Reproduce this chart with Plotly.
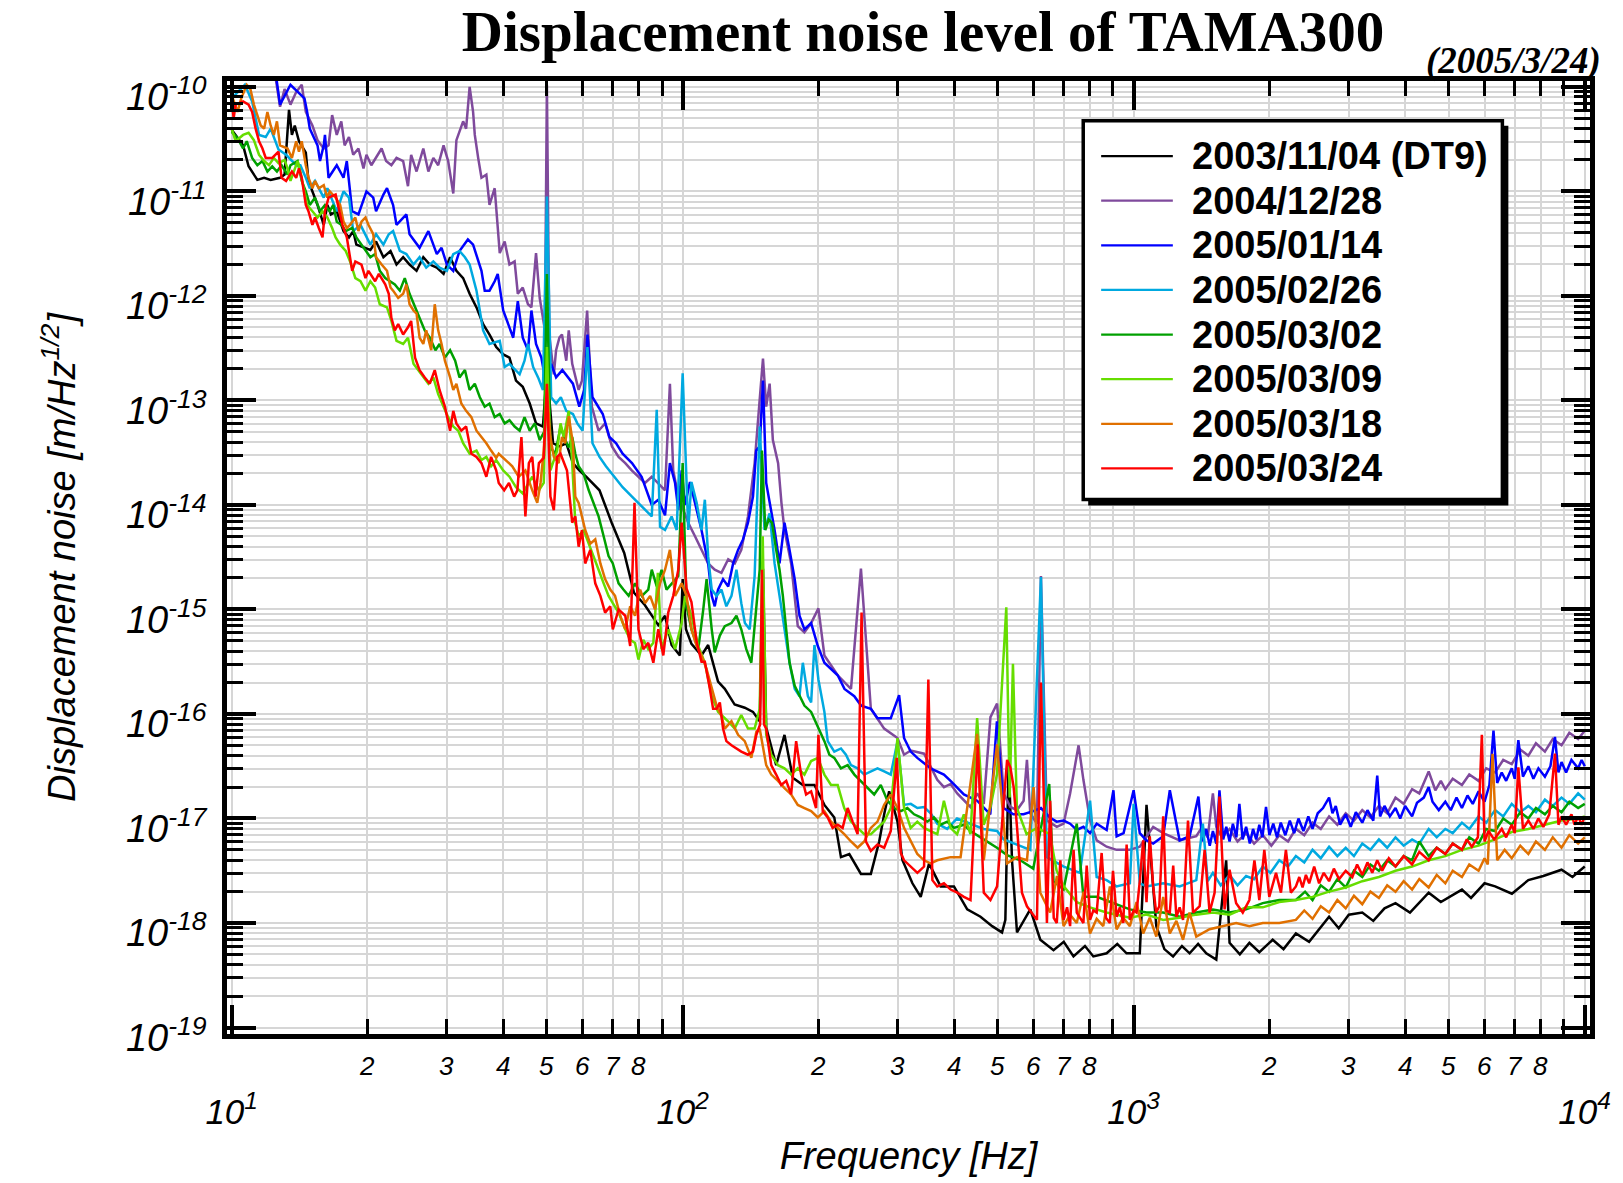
import math
import plotly.graph_objects as go

# ---------------- data (frequency [Hz], log10 of displacement noise [m/rtHz]) -------------
SERIES_NAMES = ["2003/11/04 (DT9)", "2004/12/28", "2005/01/14", "2005/02/26",
                "2005/03/02", "2005/03/09", "2005/03/18", "2005/03/24"]

BLACK = [(10,-10.41),(10.6,-10.56),(10.9,-10.76),(11.4,-10.89),(11.8,-10.87),(12.2,-10.89),(12.8,-10.87),
(13.1,-10.84),(13.4,-10.22),(13.6,-10.46),(13.8,-10.37),(14.1,-10.52),(14.6,-10.63),(14.8,-10.90),(15.5,-11.13),
(16.0,-11.32),(16.3,-11.13),(16.6,-11.22),(17.1,-11.19),(17.7,-11.38),(18.2,-11.44),(18.6,-11.38),(18.9,-11.51),
(20.3,-11.56),(20.9,-11.48),(21.7,-11.63),(22.5,-11.57),(23.2,-11.70),(24.0,-11.63),(24.8,-11.70),(25.7,-11.76),
(26.6,-11.63),(27.5,-11.70),(28.5,-11.73),(29.5,-11.79),(30.5,-11.63),(31.5,-11.76),(32.6,-11.83),(33.7,-11.98),
(34.9,-12.11),(36.1,-12.27),(37.3,-12.37),(38.6,-12.49),(40.0,-12.56),(41.3,-12.59),(42.7,-12.81),(44.2,-12.87),
(45.8,-13.03),(47.3,-13.22),(49.0,-13.25),(50.0,-12.71),(51.6,-13.41),(53.3,-13.44),(55.2,-13.41),(57.1,-13.60),
(59.0,-13.67),(61.1,-13.73),(63.2,-13.79),(65.4,-13.86),(69.6,-14.17),(74.2,-14.46),(78.0,-14.84),(82.5,-14.96),
(88.3,-15.15),(91.4,-15.06),(94.5,-15.34),(98.6,-15.44),(100,-14.71),(101.7,-15.19),(104.6,-15.33),(110.1,-15.44),
(113.9,-15.34),(119.8,-15.69),(124,-15.76),(130.4,-15.91),(137.3,-15.94),(143.2,-15.98),(148.2,-16.07),(150.7,-14.61),
(153.2,-16.13),(161.2,-16.49),(168.2,-16.20),(175.5,-16.61),(184.7,-16.68),(196,-16.68),(206.2,-16.87),(216.9,-16.99),
(224.4,-17.37),(234.2,-17.34),(248.5,-17.53),(261.4,-17.53),(272.8,-17.22),(279.8,-16.96),(287,-16.74),(299.5,-17.03),
(307.2,-17.40),(323.2,-17.62),(337.2,-17.75),(351.8,-17.43),(373.3,-17.65),(399.6,-17.65),(427.6,-17.87),(457.6,-17.94),
(485.6,-18.03),(510.8,-18.09),(519.5,-17.97),(528.4,-16.44),(537.4,-17.40),(551.3,-18.09),(590,-17.87),(620.9,-18.16),
(664.3,-18.26),(700,-18.18),(735.6,-18.32),(780,-18.22),(814.2,-18.32),(871.3,-18.29),(920,-18.20),(964.5,-18.29),
(1032,-18.29),(1068,-16.87),(1123,-18.03),(1170,-18.25),(1223,-18.32),(1280,-18.22),(1331,-18.29),(1390,-18.20),
(1449,-18.29),(1525,-18.35),(1604,-17.40),(1632,-18.19),(1720,-18.30),(1806,-18.19),(1900,-18.28),(2034,-18.16),
(2150,-18.25),(2290,-18.10),(2450,-18.18),(2713,-17.94),(2850,-18.05),(3000,-17.92),(3214,-17.90),(3400,-17.98),
(3600,-17.86),(3808,-17.81),(4100,-17.90),(4511,-17.71),(4800,-17.80),(5346,-17.68),(5600,-17.76),(6000,-17.62),
(6333,-17.65),(6900,-17.72),(7504,-17.59),(8100,-17.55),(8890,-17.49),(9400,-17.56),(10009,-17.46)]

PURPLE = [(10,-9.6),(11.5,-9.75),(12.5,-9.9),(12.8,-10.19),(13.1,-10.02),(13.5,-10.17),(13.9,-10.05),(14.3,-9.98),
(14.6,-10.24),(15.1,-10.37),(15.5,-10.51),(16.0,-10.59),(16.4,-10.56),(16.7,-10.27),(17.1,-10.46),(17.5,-10.33),
(17.8,-10.56),(18.2,-10.48),(18.6,-10.65),(19.1,-10.59),(19.6,-10.78),(19.9,-10.65),(20.4,-10.75),(20.9,-10.68),
(21.5,-10.59),(22.0,-10.71),(22.6,-10.75),(23.2,-10.68),(24.0,-10.71),(24.6,-10.95),(25.0,-10.65),(25.7,-10.81),
(26.6,-10.59),(27.3,-10.81),(28.0,-10.68),(28.7,-10.75),(29.5,-10.56),(30.2,-10.71),(31.0,-11.02),(31.5,-10.51),
(32.0,-10.43),(32.6,-10.33),(33.1,-10.40),(33.7,-10.0),(34.3,-10.24),(34.6,-10.46),(35.2,-10.68),(35.8,-10.87),
(36.7,-10.84),(37.3,-11.13),(38.3,-10.97),(38.9,-11.38),(39.3,-11.59),(40.3,-11.48),(41.3,-11.70),(42.4,-11.67),
(43.1,-11.98),(44.2,-11.92),(45.4,-12.08),(46.2,-12.11),(47.3,-11.59),(48.2,-12.02),(49.5,-12.33),(50,-9.98),
(50.6,-12.37),(51.8,-12.75),(52.4,-12.52),(53.3,-12.40),(54.0,-12.37),(55.2,-12.62),(55.9,-12.33),(56.9,-12.65),
(58.8,-12.90),(59.8,-12.81),(61.4,-12.14),(62.9,-13.06),(65.1,-13.29),(67.3,-13.22),(69.7,-13.44),(72.1,-13.54),
(74.6,-13.60),(77.1,-13.67),(79.8,-13.73),(82.5,-13.79),(85.4,-13.73),(88.3,-13.79),(91.4,-13.86),(93.7,-12.84),
(95.3,-13.67),(97.8,-13.92),(102.9,-14.17),(106.5,-14.30),(110.1,-14.43),(113.9,-14.56),(117.8,-14.62),(121.9,-14.65),
(126.2,-14.52),(130.5,-14.56),(134.9,-14.43),(139.6,-14.11),(144.4,-13.60),(148.2,-12.97),(150.7,-12.60),(153.2,-13.06),
(155.9,-12.84),(158.5,-13.38),(162.8,-13.60),(165.6,-13.98),(168.2,-14.24),(174,-14.56),(180,-15.16),(186.2,-15.22),
(192.7,-15.13),(200,-14.99),(206.2,-15.44),(220.7,-15.63),(236.2,-15.76),(248.5,-14.61),(261.4,-15.95),(279.8,-16.14),
(299.5,-16.23),(309.7,-16.39),(320.5,-16.35),(343,-16.38),(354.8,-16.51),(367,-16.63),(379.7,-16.70),(392.8,-16.67),
(406.3,-16.76),(420.4,-16.83),(434.8,-16.89),(449.8,-16.76),(465.3,-16.86),(481.4,-16.03),(498,-15.90),(515,-16.76),
(532.9,-16.89),(551.3,-16.92),(570.3,-16.83),(580,-16.44),(590,-16.95),(610.5,-17.05),(623,-14.68),(642.3,-17.02),
(675.5,-17.08),(699.3,-17.05),(723,-16.76),(755,-16.30),(773.8,-16.63),(800.6,-17.02),(828.2,-17.21),(871.3,-17.27),
(916.9,-17.30),(981,-17.30),(1032,-17.27),(1105,-17.08),(1163,-17.14),(1265,-17.21),(1377,-17.17),(1420,-17.08),
(1460,-17.18),(1499,-16.76),(1525,-17.08),(1570,-17.18),(1632,-17.10),(1700,-17.22),(1776,-17.14),(1850,-17.24),
(1934,-17.16),(2020,-17.26),(2104,-17.16),(2200,-17.22),(2290,-17.10),(2390,-17.16),(2493,-17.04),(2600,-17.10),
(2713,-16.98),(2830,-17.06),(2953,-16.95),(3080,-17.02),(3214,-16.92),(3350,-16.99),(3499,-16.88),(3650,-16.95),
(3808,-16.80),(3970,-16.86),(4145,-16.72),(4300,-16.76),(4511,-16.55),(4667,-16.73),(4800,-16.64),(4911,-16.72),
(5100,-16.62),(5346,-16.68),(5550,-16.58),(5820,-16.64),(6050,-16.52),(6333,-16.56),(6600,-16.44),(6894,-16.48),
(7200,-16.34),(7504,-16.40),(7800,-16.28),(8166,-16.36),(8500,-16.24),(8890,-16.30),(9250,-16.18),(9676,-16.24),
(10009,-16.16)]

BLUE = [(10,-9.6),(11.5,-9.7),(12.5,-9.85),(12.8,-10.17),(13.5,-9.98),(14.5,-10.11),(14.7,-10.24),(14.9,-10.40),
(15.5,-10.56),(15.7,-10.71),(16.0,-10.56),(16.1,-10.46),(16.4,-10.87),(17.1,-10.75),(17.7,-10.87),(18.0,-10.71),
(18.5,-11.19),(19.1,-11.22),(19.9,-11.0),(20.6,-11.06),(20.9,-11.19),(21.7,-11.03),(22.1,-10.97),(22.8,-11.13),
(23.2,-11.32),(24.4,-11.22),(24.8,-11.41),(26.1,-11.54),(27.3,-11.38),(28.5,-11.60),(29.2,-11.54),(30.0,-11.70),
(31.0,-11.76),(32.0,-11.57),(33.4,-11.46),(34.3,-11.51),(35.8,-11.76),(36.4,-11.95),(37.3,-11.95),(38.3,-11.86),
(38.9,-11.79),(40.0,-12.14),(42.1,-12.40),(43.1,-12.05),(44.2,-12.40),(45.4,-12.52),(46.2,-12.14),(47.3,-12.46),
(48.6,-12.59),(49.5,-12.78),(51.1,-12.65),(52.4,-12.78),(54.1,-12.71),(57.1,-12.84),(59.0,-13.06),(60.5,-12.90),
(61.5,-12.37),(63.1,-12.97),(66.5,-13.13),(68.8,-13.35),(71.2,-13.41),(73.6,-13.51),(77.2,-13.60),(81.1,-13.73),
(85.4,-14.0),(88.3,-13.95),(91.4,-14.1),(93.7,-13.60),(96.2,-13.79),(97.8,-14.05),(99.5,-13.67),(101.2,-14.0),
(103.8,-13.78),(106.5,-13.98),(110.1,-14.24),(113.9,-14.56),(116,-14.87),(117.8,-14.97),(119.8,-14.81),(122.9,-14.71),
(126.2,-14.78),(129.4,-14.56),(132.7,-14.43),(136.1,-14.33),(139.6,-14.17),(143.2,-13.92),(145.6,-13.48),(148.2,-13.44),
(150.7,-12.81),(153.2,-13.79),(155.9,-13.98),(159.9,-14.24),(164,-14.56),(168.2,-14.17),(172.6,-14.43),(177.2,-14.71),
(181.6,-15.06),(186.2,-15.19),(192.7,-15.13),(199.4,-15.35),(206.2,-15.51),(213.3,-15.57),(220.7,-15.63),(228.5,-15.76),
(240.2,-15.83),(248.7,-15.92),(261.5,-15.95),(270.4,-16.04),(289.4,-16.04),(302,-15.82),(309.7,-16.23),(320.4,-16.36),
(331.4,-16.42),(354.6,-16.52),(379.6,-16.58),(392.7,-16.64),(420.3,-16.77),(449.8,-16.83),(481,-16.96),(497.6,-16.07),
(515,-16.90),(541,-16.96),(570,-16.96),(599,-16.93),(623,-16.90),(652,-16.99),(675,-17.03),(699.3,-17.02),(723,-17.05),
(748,-17.11),(773.8,-17.08),(800.6,-17.14),(828.2,-17.05),(871.3,-17.11),(902,-16.73),(916.9,-17.17),(950,-17.14),
(1000,-16.73),(1032,-17.14),(1068,-17.21),(1105,-17.24),(1163,-17.17),(1203,-16.73),(1265,-17.21),(1331,-17.17),
(1392,-16.79),(1420,-17.22),(1449,-17.10),(1475,-17.26),(1499,-17.12),(1525,-17.24),(1550,-16.73),(1580,-17.20),
(1605,-17.08),(1632,-17.22),(1660,-17.05),(1690,-17.18),(1716,-16.86),(1745,-17.20),(1776,-17.08),(1810,-17.24),
(1840,-17.10),(1870,-17.20),(1900,-17.06),(1930,-17.18),(1966,-16.89),(2000,-17.16),(2040,-17.05),(2080,-17.18),
(2120,-17.04),(2170,-17.16),(2220,-17.02),(2270,-17.14),(2320,-17.00),(2380,-17.12),(2440,-16.98),(2493,-17.10),
(2560,-16.95),(2630,-16.90),(2713,-16.80),(2760,-16.95),(2807,-16.88),(2870,-17.06),(2953,-16.96),(3030,-17.08),
(3110,-16.94),(3214,-17.04),(3300,-16.92),(3400,-17.02),(3469,-16.59),(3520,-16.98),(3600,-16.88),(3700,-16.98),
(3808,-16.90),(3900,-17.00),(4000,-16.88),(4145,-16.98),(4250,-16.85),(4400,-16.80),(4511,-16.70),(4600,-16.84),
(4750,-16.92),(4911,-16.84),(5050,-16.92),(5200,-16.80),(5346,-16.90),(5500,-16.78),(5650,-16.86),(5820,-16.74),
(6000,-16.84),(6150,-16.68),(6280,-16.16),(6400,-16.66),(6550,-16.56),(6700,-16.64),(6894,-16.52),(7000,-16.62),
(7130,-16.25),(7300,-16.60),(7504,-16.50),(7700,-16.62),(7900,-16.52),(8166,-16.60),(8400,-16.50),(8596,-16.22),
(8750,-16.56),(8890,-16.46),(9100,-16.56),(9350,-16.44),(9676,-16.52),(9850,-16.44),(10009,-16.50)]

CYAN = [(10,-10.11),(10.3,-10.05),(10.7,-9.98),(11.1,-10.14),(11.5,-10.46),(11.9,-10.48),(12.2,-10.40),(12.7,-10.60),
(13.2,-10.65),(13.9,-10.75),(14.2,-10.75),(14.6,-10.87),(14.9,-10.97),(15.3,-10.90),(16.0,-11.06),(16.3,-10.97),
(17.1,-11.19),(17.7,-11.0),(18.2,-11.06),(18.6,-11.38),(19.3,-11.32),(20.3,-11.51),(20.9,-11.41),(21.7,-11.51),
(22.3,-11.41),(22.8,-11.38),(23.6,-11.57),(24.4,-11.60),(25.3,-11.70),(26.1,-11.63),(27.0,-11.73),(28.0,-11.67),
(28.9,-11.73),(30.0,-11.76),(31.0,-11.60),(32.0,-11.57),(32.9,-11.63),(33.7,-11.70),(34.9,-11.95),(36.1,-12.33),
(37.3,-12.46),(39.3,-12.43),(40.3,-12.68),(41.3,-12.65),(43.5,-12.75),(44.6,-12.62),(45.4,-12.46),(46.6,-12.68),
(47.8,-12.78),(49.0,-12.90),(50,-11.05),(51.1,-12.97),(52.4,-13.03),(53.7,-12.97),(55.2,-13.10),(57.1,-13.13),
(58.4,-13.22),(60,-13.29),(61.5,-12.49),(63.1,-13.41),(65.4,-13.54),(67.6,-13.63),(70.6,-13.73),(73.6,-13.83),
(77.2,-13.92),(82.5,-14.05),(85.4,-14.11),(87.6,-13.09),(89.1,-14.21),(91.4,-14.24),(94.5,-14.11),(97,-14.24),
(100,-12.74),(102.9,-14.24),(104.6,-13.78),(107.4,-13.98),(110.1,-14.24),(112,-13.95),(113.9,-14.49),(116,-14.81),
(118.9,-14.87),(121.9,-14.81),(125,-14.97),(128.3,-14.87),(131.6,-14.62),(134.9,-14.94),(137.4,-15.13),(140.8,-15.19),
(144.4,-14.68),(148.2,-13.25),(151.9,-14.24),(155.9,-14.08),(159.9,-14.56),(164,-14.87),(168.2,-15.19),(172.6,-15.51),
(177.2,-15.76),(181.6,-15.83),(184.7,-15.51),(189.5,-15.83),(192.7,-15.89),(196,-15.34),(200,-15.67),(206.2,-15.98),
(209.7,-16.26),(216.9,-16.36),(224.4,-16.33),(230.2,-16.39),(236.2,-16.49),(244.3,-16.52),(252.7,-16.58),(261.4,-16.55),
(270.4,-16.52),(279.8,-16.55),(289.4,-16.58),(299.5,-16.26),(309.7,-16.87),(320.5,-16.86),(331.5,-16.90),(343,-16.89),
(354.8,-16.95),(367,-17.05),(386,-17.10),(406,-17.0),(434.7,-17.05),(465,-17.10),(498,-17.12),(515,-17.20),(551,-17.25),
(590,-17.30),(623,-14.69),(642,-17.37),(700,-17.46),(760,-17.52),(800.6,-16.83),(828,-17.56),(871,-17.59),(916,-17.65),
(981,-17.62),(1000,-16.86),(1032,-17.62),(1068,-17.65),(1163,-17.62),(1265,-17.65),(1377,-17.59),(1424,-17.05),
(1460,-17.60),(1499,-17.52),(1560,-17.64),(1632,-17.54),(1700,-17.64),(1776,-17.55),(1850,-17.58),(1933,-17.46),
(2010,-17.52),(2104,-17.40),(2200,-17.46),(2290,-17.36),(2390,-17.42),(2493,-17.30),(2600,-17.38),(2713,-17.27),
(2830,-17.36),(2953,-17.28),(3080,-17.36),(3214,-17.24),(3350,-17.30),(3499,-17.20),(3650,-17.28),(3808,-17.18),
(3970,-17.26),(4145,-17.20),(4300,-17.24),(4511,-17.10),(4700,-17.18),(4911,-17.10),(5100,-17.14),(5346,-17.04),
(5550,-17.10),(5820,-16.98),(6050,-17.04),(6333,-16.92),(6600,-16.98),(6894,-16.86),(7200,-16.94),(7504,-16.88),
(7800,-16.94),(8166,-16.82),(8500,-16.88),(8890,-16.80),(9250,-16.86),(9676,-16.76),(10009,-16.82)]

GREEN = [(10,-10.43),(10.3,-10.49),(10.6,-10.59),(10.8,-10.52),(11.1,-10.68),(11.4,-10.75),(11.7,-10.71),(12.0,-10.81),
(12.3,-10.76),(12.6,-10.81),(12.9,-10.75),(13.3,-10.84),(13.5,-10.75),(14.0,-10.71),(14.3,-10.90),(14.6,-11.0),
(14.9,-11.13),(15.3,-11.06),(15.7,-11.19),(16.1,-11.13),(16.5,-11.19),(16.8,-11.13),(17.1,-11.29),(17.5,-11.32),
(17.9,-11.38),(18.5,-11.35),(18.9,-11.44),(19.6,-11.54),(20.3,-11.63),(20.8,-11.60),(21.3,-11.76),(21.9,-11.83),
(22.5,-11.86),(23.0,-11.89),(23.6,-11.95),(24.2,-11.83),(24.8,-11.98),(25.5,-12.11),(26.1,-12.21),(26.8,-12.33),
(27.5,-12.40),(28.3,-12.52),(28.9,-12.46),(29.7,-12.59),(30.5,-12.52),(31.3,-12.62),(32.0,-12.78),(32.9,-12.71),
(33.7,-12.90),(34.6,-12.84),(35.5,-12.97),(36.4,-13.06),(37.3,-13.03),(38.3,-13.16),(39.3,-13.13),(40.3,-13.22),
(41.3,-13.19),(42.4,-13.25),(43.5,-13.29),(44.6,-13.16),(45.8,-13.29),(47.0,-13.22),(48.2,-13.38),(49.3,-13.30),
(50,-11.79),(50.9,-13.45),(52.2,-13.51),(53.6,-13.25),(54.9,-13.38),(55.9,-13.45),(56.9,-13.35),(57.8,-13.51),
(58.8,-13.63),(60.3,-13.70),(61.9,-13.86),(63.5,-13.98),(65.1,-14.11),(66.8,-14.30),(68.5,-14.49),(70,-14.56),
(72.1,-14.75),(73.9,-14.81),(75.9,-14.87),(78.4,-14.75),(81.2,-14.87),(83.9,-14.81),(85.4,-14.62),(87.6,-14.78),
(89.8,-14.62),(92.1,-14.81),(94.5,-14.75),(97.8,-14.68),(100,-13.60),(102,-14.97),(104.6,-15.19),(108.3,-15.38),
(111.1,-15.0),(113,-14.71),(116,-15.19),(117.8,-15.41),(120.9,-15.25),(124,-15.16),(128.3,-15.13),(131.6,-15.06),
(134.9,-15.19),(138.4,-15.38),(142,-15.51),(145.6,-15.0),(148.2,-14.62),(149.9,-13.48),(152.5,-14.24),(155.1,-14.14),
(157.8,-14.17),(161.2,-14.43),(164,-14.62),(166.8,-14.87),(169.7,-15.19),(172.6,-15.51),(177.2,-15.73),(181.6,-15.83),
(186.2,-15.92),(192.7,-15.98),(202.7,-16.20),(206.2,-16.26),(211.5,-16.39),(216.9,-16.42),(224.4,-16.52),(232.2,-16.49),
(240.3,-16.58),(248.5,-16.64),(257,-16.71),(265.9,-16.77),(275,-16.68),(284.6,-16.83),(294.4,-16.90),(304.6,-16.93),
(315,-16.90),(326,-16.96),(337.2,-16.99),(348.7,-17.03),(360.8,-16.99),(373.3,-17.06),(386,-17.03),(399.5,-17.09),
(420.3,-17.06),(434.7,-17.12),(465,-17.20),(497.6,-17.28),(523.9,-17.35),(560.8,-17.40),(599,-17.48),(649.9,-16.67),
(664.3,-17.60),(699.3,-17.68),(748,-17.05),(773.8,-17.75),(828.2,-17.75),(902,-17.81),(981,-17.87),(1068,-17.90),
(1163,-17.90),(1265,-17.94),(1377,-17.90),(1499,-17.87),(1632,-17.90),(1776,-17.87),(1934,-17.81),(2104,-17.78),
(2290,-17.78),(2400,-17.70),(2493,-17.78),(2600,-17.64),(2713,-17.70),(2830,-17.58),(2953,-17.66),(3080,-17.50),
(3214,-17.56),(3350,-17.44),(3499,-17.50),(3650,-17.40),(3808,-17.46),(3970,-17.36),(4145,-17.40),(4300,-17.22),
(4511,-17.36),(4700,-17.28),(4911,-17.34),(5100,-17.24),(5346,-17.30),(5550,-17.18),(5820,-17.24),(6050,-17.10),
(6333,-17.12),(6600,-17.00),(6894,-17.06),(7200,-16.94),(7504,-17.00),(7800,-16.90),(8166,-16.96),(8500,-16.88),
(8890,-16.94),(9250,-16.84),(9676,-16.90),(10009,-16.86)]

LIGHTGREEN = [(10,-10.40),(10.2,-10.52),(10.6,-10.46),(10.9,-10.44),(11.2,-10.51),(11.5,-10.65),(11.8,-10.71),
(12.1,-10.75),(12.4,-10.68),(12.7,-10.73),(13.1,-10.70),(13.3,-10.78),(13.5,-10.90),(14.0,-10.71),(14.2,-10.81),
(14.5,-11.0),(14.7,-11.13),(15.1,-11.19),(15.5,-11.25),(15.9,-11.19),(16.3,-11.25),(16.7,-11.35),(17.0,-11.44),
(17.4,-11.51),(17.9,-11.57),(18.3,-11.67),(18.8,-11.83),(19.3,-11.86),(19.8,-11.95),(20.3,-11.86),(20.8,-11.92),
(21.3,-12.08),(22.1,-12.11),(22.6,-12.24),(23.2,-12.43),(24.0,-12.46),(24.6,-12.40),(25.3,-12.65),(25.9,-12.71),
(26.6,-12.78),(27.3,-12.84),(28.0,-12.78),(28.7,-12.94),(29.5,-13.06),(30.2,-13.16),(31.0,-13.25),(31.8,-13.29),
(32.6,-13.41),(33.7,-13.51),(34.9,-13.48),(35.8,-13.57),(36.7,-13.54),(37.6,-13.63),(38.6,-13.57),(40.0,-13.67),
(41.3,-13.73),(42.7,-13.83),(44.2,-13.89),(45.6,-13.79),(46.4,-13.73),(48,-13.86),(49.2,-13.79),(50,-12.49),
(50.9,-13.67),(52.7,-13.48),(53.6,-13.22),(54.5,-13.35),(55.9,-13.10),(56.9,-13.60),(57.8,-14.17),(58.8,-14.30),
(60.3,-14.24),(61.9,-14.37),(63.5,-14.49),(65.1,-14.62),(66.8,-14.75),(68.5,-14.87),(70,-14.94),(72.1,-15.03),
(74.6,-15.19),(76.5,-15.29),(78.4,-15.32),(79.8,-15.48),(81.8,-15.29),(83.9,-15.38),(86.1,-15.32),(88.1,-14.65),
(89.8,-15.38),(92.9,-15.19),(96.2,-15.38),(99.5,-15.13),(101.2,-14.87),(104.6,-15.06),(108.3,-15.35),(112,-15.51),
(116,-15.83),(119.8,-15.98),(121.9,-16.01),(126.1,-16.07),(130.4,-16.14),(134.9,-16.01),(139.6,-16.14),(144.4,-16.14),
(148.2,-15.95),(150.5,-14.30),(153.2,-16.20),(157.2,-16.39),(162.7,-16.49),(168.2,-16.52),(174,-16.58),(180,-16.52),
(186.2,-16.58),(192.7,-16.45),(199.4,-16.42),(206.2,-16.58),(213.3,-16.68),(220.7,-16.68),(228.2,-16.90),(236.2,-17.03),
(244.3,-17.09),(252.7,-17.15),(261.4,-17.15),(270.4,-17.09),(279.8,-17.03),(289.4,-16.90),(299.5,-16.23),(309.7,-16.90),
(320.4,-17.09),(331.4,-17.03),(342.9,-17.09),(354.6,-17.12),(367,-17.15),(379.6,-16.83),(392.7,-17.09),(406,-17.15),
(420.3,-16.96),(434.7,-17.15),(449.8,-16.04),(465,-17.06),(481,-16.90),(497.6,-16.58),(522,-14.98),(531,-16.80),
(540,-15.52),(551,-16.90),(579,-17.15),(610,-17.09),(652,-17.15),(675,-17.50),(700,-17.65),(748,-17.80),(800,-17.85),
(871,-17.90),(981,-17.95),(1068,-17.92),(1163,-17.97),(1265,-17.95),(1377,-17.92),(1499,-17.90),(1632,-17.92),
(1776,-17.85),(1934,-17.85),(2104,-17.80),(2290,-17.78),(2493,-17.75),(2713,-17.70),(2953,-17.66),(3214,-17.60),
(3499,-17.56),(3808,-17.50),(4145,-17.46),(4511,-17.40),(4911,-17.36),(5346,-17.30),(5820,-17.26),(6333,-17.20),
(6894,-17.13),(7504,-17.10),(8166,-17.06),(8890,-17.02),(9676,-17.0),(10009,-16.98)]

ORANGE = [(10,-10.08),(10.3,-10.24),(10.5,-10.11),(10.8,-9.98),(11.0,-10.02),(11.2,-10.17),(11.6,-10.37),(11.8,-10.40),
(12.0,-10.24),(12.2,-10.37),(12.4,-10.46),(12.6,-10.33),(12.8,-10.56),(13.3,-10.59),(13.6,-10.68),(13.9,-10.52),
(14.1,-10.62),(14.3,-10.52),(14.6,-10.75),(14.8,-10.87),(15.1,-10.97),(15.3,-10.90),(15.6,-10.97),(16.0,-10.94),
(16.3,-11.06),(16.5,-11.0),(17.0,-11.06),(17.4,-11.13),(17.7,-11.29),(18.0,-11.35),(18.3,-11.32),(18.8,-11.25),
(19.1,-11.38),(19.4,-11.29),(19.8,-11.25),(20.1,-11.32),(20.6,-11.41),(20.9,-11.63),(21.5,-11.70),(22.1,-11.76),
(22.5,-11.92),(22.8,-11.95),(23.4,-12.02),(24.0,-11.98),(24.4,-11.89),(24.8,-12.08),(25.3,-12.14),(25.7,-12.17),
(26.1,-12.40),(26.6,-12.46),(27.0,-12.33),(27.7,-12.52),(28.2,-12.08),(28.7,-12.33),(29.2,-12.46),(29.7,-12.62),
(30.5,-12.78),(31.0,-12.90),(31.5,-12.84),(32.3,-13.03),(33.1,-13.10),(34.0,-13.16),(34.9,-13.29),(35.8,-13.35),
(36.7,-13.41),(37.6,-13.48),(38.6,-13.55),(39.1,-13.51),(40.5,-13.57),(41.9,-13.63),(43.3,-13.73),(44.8,-13.67),
(46.4,-13.86),(47.6,-13.98),(48.4,-13.79),(49.2,-13.48),(50,-12.90),(50.9,-13.35),(51.8,-13.54),(53.1,-13.60),
(54,-13.35),(54.9,-13.41),(55.9,-13.15),(57.1,-13.41),(57.8,-13.92),(58.8,-13.98),(60.8,-14.24),(62.4,-14.37),
(64,-14.33),(65.7,-14.56),(67.3,-14.71),(69.1,-14.81),(70.8,-14.87),(72.7,-15.06),(74.6,-15.19),(76.5,-14.97),
(78.4,-15.06),(80.5,-14.81),(82.5,-14.94),(84.7,-14.87),(86.8,-15.0),(89.1,-14.75),(91.4,-14.62),(93.7,-14.43),
(96.2,-14.87),(99.5,-14.75),(102,-14.87),(104.6,-15.19),(107.4,-15.35),(110.1,-15.44),(113,-15.57),(116,-15.76),
(118.9,-15.92),(121.9,-16.02),(124,-16.14),(128.3,-16.07),(132.7,-16.20),(137.3,-16.26),(142,-16.42),(145.7,-16.17),
(148.2,-16.14),(153.2,-16.49),(157.2,-16.58),(162.7,-16.64),(168.2,-16.71),(174,-16.77),(180,-16.87),(186.2,-16.90),
(192.7,-16.93),(199.4,-16.99),(206.2,-16.93),(213.3,-17.03),(220.7,-17.09),(228.2,-17.15),(236.2,-17.22),(244.3,-17.28),
(252.7,-17.22),(261.4,-17.09),(270.4,-17.03),(279.8,-16.87),(289.4,-16.77),(299.5,-16.90),(309.7,-17.09),(320.4,-17.22),
(331.4,-17.34),(342.9,-17.40),(354.6,-17.43),(367,-17.40),(392.7,-17.37),(413.3,-17.37),(449.8,-16.19),(465.3,-17.40),
(498,-16.29),(524.1,-17.43),(551.3,-17.37),(580,-17.40),(600,-16.70),(620.9,-17.71),(653,-17.90),(676,-17.55),
(699.3,-18.03),(723,-17.92),(748,-18.0),(775,-17.70),(800.6,-18.10),(828,-17.96),(856.5,-18.03),(886,-17.65),
(916.9,-18.06),(948,-17.95),(981,-18.03),(1015,-17.80),(1050,-18.10),(1086,-17.95),(1123,-18.13),(1163,-17.75),
(1203,-18.10),(1244,-17.98),(1287,-18.16),(1330,-17.90),(1377,-18.13),(1474,-18.06),(1577,-18.03),(1688,-18.0),
(1806,-18.03),(1934,-18.0),(2104,-18.0),(2290,-17.97),(2390,-17.88),(2493,-17.96),(2600,-17.84),(2713,-17.90),
(2830,-17.78),(2953,-17.86),(3080,-17.74),(3214,-17.82),(3350,-17.70),(3499,-17.76),(3650,-17.64),(3808,-17.70),
(3970,-17.60),(4145,-17.68),(4300,-17.58),(4511,-17.66),(4700,-17.54),(4911,-17.62),(5100,-17.50),(5346,-17.56),
(5550,-17.44),(5820,-17.50),(6000,-17.38),(6100,-17.44),(6250,-16.38),(6400,-17.40),(6650,-17.30),(6894,-17.38),
(7200,-17.26),(7504,-17.34),(7800,-17.22),(8166,-17.30),(8500,-17.18),(8890,-17.28),(9250,-17.16),(9676,-17.24),
(10009,-17.18)]

RED = [(10,-10.13),(10.1,-10.30),(10.2,-10.17),(10.6,-10.14),(10.9,-10.17),(11.1,-10.24),(11.3,-10.40),(11.5,-10.52),
(11.7,-10.59),(11.9,-10.68),(12.3,-10.68),(12.7,-10.62),(12.9,-10.87),(13.2,-10.90),(13.6,-10.81),(13.9,-10.87),
(14.1,-10.78),(14.3,-10.87),(14.6,-11.13),(14.8,-11.19),(15.1,-11.32),(15.3,-11.25),(15.6,-11.35),(15.9,-11.44),
(16.1,-11.19),(16.4,-11.06),(17.0,-11.03),(17.2,-11.13),(17.6,-11.32),(18.0,-11.44),(18.5,-11.76),(18.8,-11.67),
(19.4,-11.70),(19.8,-11.83),(20.1,-11.76),(20.8,-11.86),(21.2,-11.79),(21.9,-11.89),(22.3,-11.98),(22.6,-12.21),
(23.0,-12.33),(23.4,-12.27),(24.0,-12.37),(24.6,-12.30),(25.0,-12.24),(25.5,-12.59),(26.1,-12.71),(26.8,-12.78),
(27.5,-12.84),(28.2,-12.71),(28.9,-12.90),(29.7,-13.06),(30.5,-13.29),(31.0,-13.10),(31.5,-13.22),(32.3,-13.29),
(33.1,-13.25),(34.0,-13.51),(34.9,-13.54),(35.8,-13.60),(36.7,-13.73),(37.6,-13.54),(38.6,-13.67),(39.1,-13.79),
(40.2,-13.86),(41.2,-13.79),(42.3,-13.92),(43,-13.86),(43.9,-13.35),(44.8,-14.11),(45.6,-13.60),(46.4,-13.54),
(47.2,-13.92),(48,-13.60),(49.2,-13.55),(50,-12.84),(50.9,-13.92),(51.8,-14.05),(52.7,-13.54),(53.6,-13.51),
(54.5,-13.60),(55.4,-13.67),(56.9,-14.17),(57.8,-14.11),(58.8,-14.40),(59.8,-14.24),(60.8,-14.56),(62.4,-14.43),
(64,-14.75),(65.7,-14.87),(67.3,-15.03),(69.1,-14.97),(70,-15.19),(72.1,-15.0),(74.6,-15.06),(76.5,-15.35),
(78.2,-13.98),(79.8,-15.19),(81.8,-15.38),(83.9,-15.32),(86.1,-15.51),(88.3,-15.19),(90.6,-15.44),(92.9,-15.03),
(95.3,-14.87),(97.8,-14.62),(99.5,-14.17),(102,-14.80),(104.6,-14.93),(107.4,-15.31),(110.1,-15.50),(112,-15.50),
(114.9,-15.76),(116.8,-15.95),(118.9,-15.95),(120.9,-15.89),(122.9,-16.14),(125,-16.26),(128.3,-16.30),(131.5,-16.33),
(134.9,-16.36),(139.6,-16.39),(143.2,-16.36),(145.7,-16.20),(148.5,-16.10),(149.9,-14.62),(151.5,-16.10),(153.2,-16.14),
(157.2,-16.49),(161.2,-16.58),(165.4,-16.68),(169.7,-16.64),(174,-16.77),(178.5,-16.26),(183.1,-16.58),(187.8,-16.77),
(192.7,-16.74),(197.6,-16.90),(200,-16.20),(204.5,-16.93),(209.7,-16.99),(215.1,-17.09),(220.7,-17.06),(226.3,-17.09),
(232.2,-16.90),(238.2,-17.03),(244.3,-17.15),(249.3,-15.03),(254.9,-17.22),(261.4,-17.31),(270.4,-17.25),(279.8,-17.28),
(289.4,-17.12),(298.5,-16.42),(304.6,-17.33),(309.7,-17.40),(320.5,-17.46),(331.5,-17.52),(343,-17.46),(350.6,-15.67),
(357.9,-17.59),(367,-17.65),(379.7,-17.62),(392.8,-17.68),(406.3,-17.71),(420.4,-17.75),(434.8,-17.78),(451.3,-16.29),
(465.3,-17.71),(481.4,-17.78),(498,-17.65),(524.1,-16.44),(532.9,-16.51),(542,-16.70),(551.3,-17.08),(565.4,-17.71),
(580,-17.84),(595,-17.90),(610.5,-17.97),(623,-15.70),(642.3,-18.0),(653,-16.83),(665,-17.95),(675.5,-18.0),
(688,-17.40),(699.3,-17.97),(712,-17.85),(723,-18.03),(736,-17.30),(748,-17.90),(760,-17.95),(773.8,-18.0),
(787,-17.45),(800.6,-17.97),(814,-17.88),(828.2,-17.90),(849.3,-17.33),(868,-17.95),(886,-18.0),(900,-17.50),
(916.9,-17.94),(932,-17.85),(948.4,-18.0),(965,-17.25),(981,-17.97),(1000,-17.88),(1015,-17.90),(1032,-17.60),
(1050,-17.21),(1068,-17.80),(1086,-17.17),(1105,-17.65),(1122,-17.90),(1140,-17.84),(1163,-16.98),(1183,-17.88),
(1203,-17.90),(1224,-17.45),(1244,-17.94),(1265,-17.85),(1287,-17.97),(1320,-17.02),(1354,-17.90),(1401,-17.84),
(1437,-17.30),(1474,-17.90),(1512,-17.71),(1550,-16.79),(1591,-17.87),(1632,-17.49),(1688,-17.81),(1746,-17.90),
(1806,-17.78),(1853,-17.40),(1900,-17.78),(1949,-17.30),(1999,-17.75),(2069,-17.52),(2122,-17.71),(2176,-17.30),
(2232,-17.71),(2290,-17.65),(2330,-17.56),(2369,-17.66),(2410,-17.54),(2451,-17.62),(2514,-17.46),(2578,-17.62),
(2640,-17.52),(2713,-17.60),(2780,-17.48),(2855,-17.58),(2953,-17.50),(3055,-17.56),(3130,-17.44),(3214,-17.54),
(3300,-17.42),(3382,-17.52),(3469,-17.40),(3558,-17.50),(3680,-17.38),(3808,-17.46),(3970,-17.36),(4145,-17.44),
(4300,-17.32),(4511,-17.40),(4700,-17.28),(4911,-17.34),(5100,-17.24),(5346,-17.30),(5480,-17.20),(5623,-17.27),
(5800,-17.18),(5918,-16.20),(6000,-17.22),(6121,-17.12),(6300,-17.20),(6551,-17.10),(6700,-17.18),(6894,-17.06),
(7000,-17.14),(7130,-16.51),(7300,-17.10),(7504,-17.02),(7700,-17.10),(7895,-17.00),(8100,-17.08),(8350,-16.96),
(8596,-16.38),(8750,-17.06),(8890,-16.98),(9100,-17.06),(9353,-16.96),(9500,-17.06),(9676,-16.98),(9850,-17.06),
(10009,-16.98)]

SERIES_DATA = [BLACK, PURPLE, BLUE, CYAN, GREEN, LIGHTGREEN, ORANGE, RED]
SERIES_COLORS = ["#000000", "#7f4a9c", "#0000ff", "#00a9e0", "#00a000", "#66dd00", "#e07000", "#ff0000"]

X_MAJOR = [10, 100, 1000, 10000]
X_MAJOR_TEXT = ["10<sup>1</sup>", "10<sup>2</sup>", "10<sup>3</sup>", "10<sup>4</sup>"]
X_MINOR_DIGITS = [2, 3, 4, 5, 6, 7, 8, 9]
X_MINOR_LABELED = [2, 3, 4, 5, 6, 7, 8]
Y_EXPONENTS = [-10, -11, -12, -13, -14, -15, -16, -17, -18, -19]

# ---------------- layout geometry (pixels) ----------------
W, H = 1623, 1183
PL, PR, PT, PB = 227, 1596, 81, 1042


def fx(p):
    return (p - PL) / (PR - PL)


def fy(p):
    return (PB - p) / (PB - PT)


SANS = "Liberation Sans, Arial, Helvetica, sans-serif"
SERIF = "Liberation Serif, Times New Roman, serif"
GRID = "#d6d6d6"

fig = go.Figure()
for name, pts, col in zip(SERIES_NAMES, SERIES_DATA, SERIES_COLORS):
    fig.add_trace(go.Scatter(
        x=[p[0] for p in pts], y=[10 ** p[1] for p in pts],
        mode="lines", name=name, showlegend=False,
        line=dict(color=col, width=2.5), hoverinfo="skip"))

x_minor_vals = [d * 10 ** k for k in (1, 2, 3) for d in X_MINOR_DIGITS]
y_major_vals = [10.0 ** e for e in Y_EXPONENTS]
y_minor_vals = [d * 10.0 ** e for e in Y_EXPONENTS[1:] for d in X_MINOR_DIGITS]

fig.update_xaxes(
    type="log", range=[0.9896, 4.012], tickmode="array",
    tickvals=X_MAJOR, ticktext=X_MAJOR_TEXT,
    ticks="inside", ticklen=29, tickwidth=3.5, tickcolor="black",
    showline=True, linewidth=4.5, linecolor="black", mirror="allticks",
    showgrid=True, gridcolor=GRID, gridwidth=1.5, zeroline=False,
    minor=dict(tickmode="array", tickvals=x_minor_vals, ticks="inside", ticklen=15,
               tickwidth=3.3, tickcolor="black", showgrid=True, gridcolor=GRID, gridwidth=1.5),
    tickfont=dict(family=SANS, size=35, style="italic", color="black"),
    ticklabelstandoff=43,
    title=dict(text="Frequency [Hz]", font=dict(family=SANS, size=38, style="italic", color="black"),
               standoff=14),
)
fig.update_yaxes(
    type="log", range=[-19.062, -9.944], tickmode="array",
    tickvals=y_major_vals, ticktext=["10<sup>%d</sup>" % e for e in Y_EXPONENTS],
    ticks="inside", ticklen=29, tickwidth=3.5, tickcolor="black",
    showline=True, linewidth=4.5, linecolor="black", mirror="allticks",
    showgrid=True, gridcolor=GRID, gridwidth=1.5, zeroline=False,
    minor=dict(tickmode="array", tickvals=y_minor_vals, ticks="inside", ticklen=16,
               tickwidth=3.3, tickcolor="black", showgrid=True, gridcolor=GRID, gridwidth=1.5),
    tickfont=dict(family=SANS, size=38, style="italic", color="black"),
    ticklabelstandoff=8, ticklabelshift=10,
    title=dict(text="Displacement noise [m/Hz<sup>1/2</sup>]",
               font=dict(family=SANS, size=38, style="italic", color="black"), standoff=40),
)

annotations = []
# minor frequency digit labels
for k in (1, 2, 3):
    for d in X_MINOR_LABELED:
        annotations.append(dict(
            x=math.log10(d * 10 ** k), xref="x", y=fy(1074), yref="paper",
            text=str(d), showarrow=False, xanchor="center", yanchor="middle",
            font=dict(family=SANS, size=26, style="italic", color="black")))

# date annotation near title
annotations.append(dict(
    x=fx(1609), xref="paper", y=fy(61), yref="paper", text="(2005/3/24)",
    showarrow=False, xanchor="right", yanchor="middle",
    font=dict(family=SERIF, size=37, style="italic", weight="bold", color="black")))

# legend (box with drop shadow)
shapes = [
    dict(type="rect", xref="paper", yref="paper", x0=fx(1092), x1=fx(1514), y0=fy(509), y1=fy(126),
         fillcolor="black", line=dict(width=0), layer="above"),
    dict(type="rect", xref="paper", yref="paper", x0=fx(1087), x1=fx(1508), y0=fy(503), y1=fy(121),
         fillcolor="white", line=dict(color="black", width=3.5), layer="above"),
]
for i, (name, col) in enumerate(zip(SERIES_NAMES, SERIES_COLORS)):
    yy = 156.7 + 45 * i
    shapes.append(dict(type="line", xref="paper", yref="paper", x0=fx(1105), x1=fx(1177),
                       y0=fy(yy), y1=fy(yy), line=dict(color=col, width=2.2), layer="above"))
    annotations.append(dict(x=fx(1194), xref="paper", y=fy(yy), yref="paper", text=name,
                            showarrow=False, xanchor="left", yanchor="middle",
                            font=dict(family=SANS, size=38, weight="bold", color="black")))

fig.update_layout(
    width=W, height=H, autosize=False,
    margin=dict(l=PL, r=W - PR, t=PT, b=H - PB, pad=0),
    paper_bgcolor="white", plot_bgcolor="white",
    title=dict(text="Displacement noise level of TAMA300", x=923 / W, xanchor="center",
               y=1 - 11 / H, yanchor="top",
               font=dict(family=SERIF, size=57, weight="bold", color="black")),
    annotations=annotations, shapes=shapes, showlegend=False,
)

fig.write_html("out.html")
